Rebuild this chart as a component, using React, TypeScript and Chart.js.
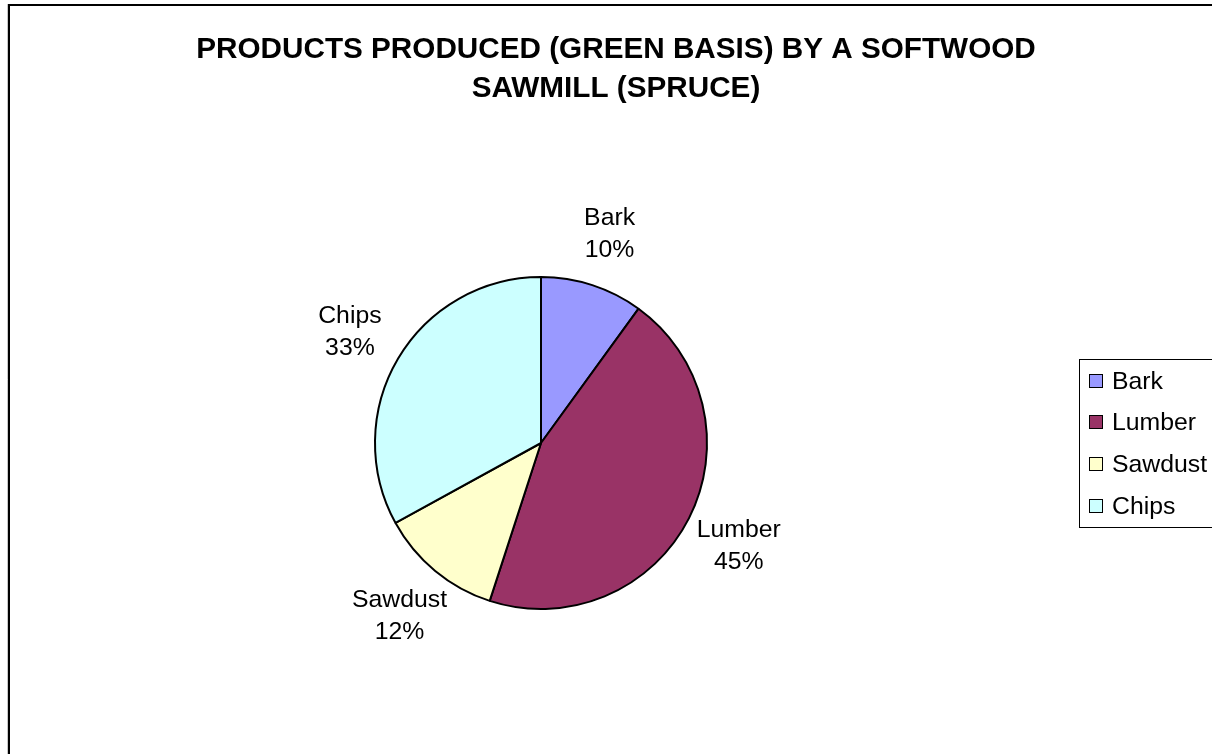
import React, { useEffect, useRef } from "react";
import { Chart, registerables } from "chart.js";

Chart.register(...registerables);

const categories = ["Bark", "Lumber", "Sawdust", "Chips"];
const percentages = [10, 45, 12, 33];
const sliceColors = ["#9999FF", "#993366", "#FFFFCC", "#CCFFFF"];
const titleLines = ["PRODUCTS PRODUCED (GREEN BASIS) BY A SOFTWOOD", "SAWMILL (SPRUCE)"];

const FONT = "'Liberation Sans', Arial, Helvetica, sans-serif";

const decorPlugin = {
  id: "decor",
  afterDraw(chart: any) {
    const ctx = chart.ctx as CanvasRenderingContext2D;
    ctx.save();

    // outer frame
    ctx.strokeStyle = "#c8c8c8";
    ctx.lineWidth = 1;
    ctx.beginPath();
    ctx.moveTo(7.5, 4);
    ctx.lineTo(7.5, 760);
    ctx.stroke();
    ctx.strokeStyle = "#000";
    ctx.lineWidth = 2;
    ctx.strokeRect(9, 5, 1240, 800);

    // title
    ctx.fillStyle = "#000";
    ctx.textAlign = "center";
    ctx.textBaseline = "alphabetic";
    ctx.font = `bold 29.7px ${FONT}`;
    ctx.fillText(titleLines[0], 616, 58);
    ctx.fillText(titleLines[1], 616, 97);

    // data labels
    const meta = chart.getDatasetMeta(0);
    const labels = chart.data.labels as string[];
    const values = chart.data.datasets[0].data as number[];
    const total = values.reduce((a, b) => a + b, 0);
    ctx.font = `24.8px ${FONT}`;
    meta.data.forEach((arc: any, i: number) => {
      const p = arc.getProps(["x", "y", "startAngle", "endAngle", "outerRadius"], true);
      const mid = (p.startAngle + p.endAngle) / 2;
      const D = p.outerRadius + 56;
      const cx = p.x + Math.cos(mid) * D;
      const cy = p.y + Math.sin(mid) * D;
      const pct = Math.round((values[i] / total) * 100) + "%";
      ctx.fillText(labels[i], cx, cy - 7);
      ctx.fillText(pct, cx, cy + 25);
    });

    // legend
    ctx.strokeStyle = "#000";
    ctx.lineWidth = 1;
    ctx.strokeRect(1079.5, 359.5, 200, 168);
    ctx.textAlign = "left";
    ctx.font = `24.8px ${FONT}`;
    const colors = chart.data.datasets[0].backgroundColor as string[];
    labels.forEach((lab, i) => {
      const cy = 380 + i * 41.7;
      const top = Math.round(cy - 6.5) + 0.5;
      ctx.fillStyle = colors[i];
      ctx.fillRect(1089.5, top, 13, 13);
      ctx.strokeStyle = "#000";
      ctx.strokeRect(1089.5, top, 13, 13);
      ctx.fillStyle = "#000";
      ctx.fillText(lab, 1112, cy + 8.7);
    });

    ctx.restore();
  },
};

export default function App() {
  const ref = useRef<HTMLCanvasElement | null>(null);

  useEffect(() => {
    if (!ref.current) return;
    const chart = new Chart(ref.current, {
      type: "pie",
      data: {
        labels: categories,
        datasets: [
          {
            data: percentages,
            backgroundColor: sliceColors,
            borderColor: "#000",
            borderWidth: 2,
          },
        ],
      },
      options: {
        animation: false,
        responsive: false,
        radius: 166,
        layout: { padding: { left: 0, right: 130, top: 143, bottom: 11 } },
        plugins: {
          legend: { display: false },
          title: { display: false },
          tooltip: { enabled: false },
        },
      } as any,
      plugins: [decorPlugin],
    });
    return () => chart.destroy();
  }, []);

  return (
    <div style={{ position: "fixed", left: 0, top: 0, width: 1212, height: 754, background: "#fff" }}>
      <canvas ref={ref} width={1212} height={754} style={{ display: "block" }} />
    </div>
  );
}
